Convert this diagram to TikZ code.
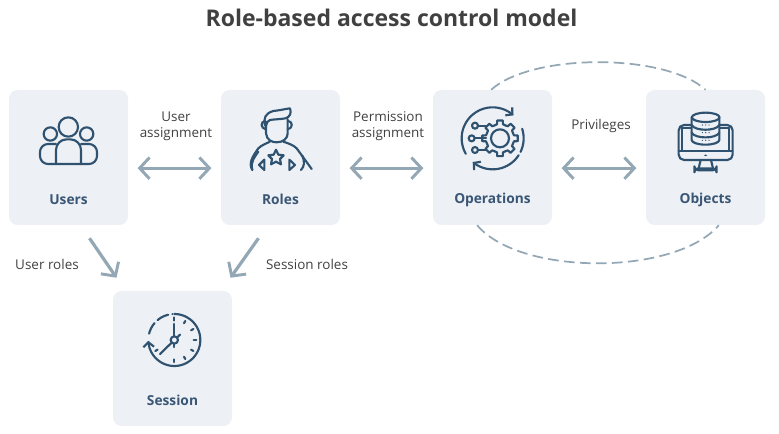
\documentclass[tikz,border=0pt]{standalone}
\usepackage{fontspec}
\setmainfont{Open Sans}
\usepackage{xcolor}
\usetikzlibrary{calc}
\usetikzlibrary{arrows.meta}
\definecolor{boxfill}{HTML}{EDF0F5}
\definecolor{icondark}{HTML}{2F5270}
\definecolor{arrowgrey}{HTML}{94A7B5}
\definecolor{textdark}{HTML}{404040}
\definecolor{captionblue}{HTML}{3A5675}
\tikzset{
  box/.style={fill=boxfill,rounded corners=6.5pt,minimum width=89.25pt,minimum height=101.25pt,inner sep=0pt},
  boxtext/.style={font=\fontsize{10.3}{12}\selectfont\bfseries,text=captionblue,inner sep=0pt},
  reltext/.style={font=\fontsize{10.1}{12}\selectfont,text=textdark,align=center,inner sep=0pt},
  relarrow/.style={draw=arrowgrey,line width=2.4pt,{Straight Barb[length=7.5pt,width=16pt,line width=2.2pt]}-{Straight Barb[length=7.5pt,width=16pt,line width=2.2pt]},shorten <=7pt,shorten >=7pt},
  downarrow/.style={draw=arrowgrey,line width=2.4pt,-{Straight Barb[length=7.5pt,width=16pt,line width=2.2pt]}},
  dashedarc/.style={draw=arrowgrey,line width=1.3pt,dash pattern=on 8pt off 4pt},
  icon/.style={draw=icondark,line width=1.6pt,line cap=round,line join=round},
  iconhead/.style={icon,-{Straight Barb[length=3.5pt,width=8pt,line width=1.6pt]}},
}
\begin{document}
\begin{tikzpicture}[x=.75pt,y=-.75pt]
\useasboundingbox (0,0) rectangle (779,434);
\node[font=\fontsize{17.25}{20}\selectfont\bfseries,text=textdark,inner sep=0pt] (title) at (391.5,18) {Role-based access control model};
\foreach \name/\txt/\x/\y in {users/Users/68.5/157.5,roles/Roles/280.5/157.5,operations/Operations/492.5/157.5,objects/Objects/705.5/157.5,session/Session/172.5/358.5} {
  \node[box] (\name) at (\x,\y) {};
  \node[boxtext] (\name text) at ([yshift=-31.6pt]\name.center) {\txt};
}
\node[reltext] (useras) at (176,126) {User\\assignment};
\node[reltext] (permas) at (388,126) {Permission\\assignment};
\node[reltext] (priv) at (601,126.5) {Privileges};
\node[reltext] (userroles) at (47,264.5) {User roles};
\node[reltext] (sessionroles) at (307,264.5) {Session roles};
\draw[relarrow] ([yshift=-8pt]users.east) -- ([yshift=-8pt]roles.west);
\draw[relarrow] ([yshift=-8pt]roles.east) -- ([yshift=-8pt]operations.west);
\draw[relarrow] ([yshift=-8pt]operations.east) -- ([yshift=-8pt]objects.west);
\coordinate (usersout) at ($(users.south)+(21,13)$);
\coordinate (rolesout) at ($(roles.south)+(-22,13)$);
\coordinate (sessionL) at ($(session.north)+(-56,-13)$);
\coordinate (sessionR) at ($(session.north)+(58,-13)$);
\draw[downarrow] (usersout) -- (sessionL);
\draw[downarrow] (rolesout) -- (sessionR);
\draw[dashedarc] ([xshift=-1pt]operations.north) .. controls (532,53) and (665,53) .. ([xshift=0pt]objects.north);
\draw[dashedarc] ([xshift=-11.5pt]operations.south) .. controls (520,276) and (675,276) .. ([xshift=10pt]objects.south);
% users icon
\begin{scope}[shift={(0,80)},x=.25pt,y=-.25pt]
\draw[icon] (205,141) circle (29);
\draw[icon] (151,162) circle (20);
\draw[icon] (260,162) circle (20);
\draw[icon,rounded corners=8pt] (168,252) -- (168,178) -- (243,178) -- (243,252);
\draw[icon,rounded corners=6pt] (168,192) -- (120,192) -- (120,252) -- (291,252) -- (291,192) -- (243,192);
\end{scope}
% roles icon
\begin{scope}[shift={(215,85)},x=.25pt,y=-.25pt]
\draw[icon] (153,110) -- (153,145) .. controls (155,165) and (170,172) .. (185,172) .. controls (205,172) and (218,160) .. (218,145) -- (218,102);
\draw[icon] (150,122) .. controls (145,100) and (150,85) .. (175,78) .. controls (195,76) and (210,72) .. (225,70) .. controls (230,85) and (225,95) .. (212,100) .. controls (195,103) and (175,103) .. (165,105) .. controls (158,108) and (155,112) .. (153,122);
\draw[icon] (150,108) .. controls (136,110) and (136,130) .. (153,133);
\draw[icon] (220,108) .. controls (234,110) and (234,130) .. (218,133);
\draw[icon] (112,255) .. controls (100,235) and (112,215) .. (130,190) .. controls (140,180) and (155,175) .. (165,170);
\draw[icon] (205,170) .. controls (220,175) and (235,180) .. (245,190) -- (290,252);
\draw[icon] (130,200) .. controls (120,215) and (105,230) .. (112,255);
\draw[icon] (262,212) .. controls (270,230) and (268,245) .. (258,255);
\draw[icon] (148,224) -- (132,240) -- (148,255) -- cycle;
\draw[icon] (223,224) -- (240,240) -- (223,255) -- cycle;
\draw[icon] (183,194) -- (190,209) -- (206,211) -- (195,222) -- (198,238) -- (183,230) -- (168,238) -- (171,222) -- (160,211) -- (176,209) -- cycle;
\end{scope}
% operations icon
\begin{scope}[shift={(430,60)},x=.25pt,y=-.25pt]
\draw[iconhead] plot[domain=150:312,samples=40,smooth] ({188+93*cos(\x)},{235+93*sin(\x)});
\draw[icon] plot[domain=-18:26,samples=12,smooth] ({188+93*cos(\x)},{235+93*sin(\x)});
\draw[iconhead] plot[domain=33:130,samples=30,smooth] ({188+93*cos(\x)},{235+93*sin(\x)});
\draw[icon] (210,235) circle (27);
\foreach \t in {0,45,...,315} {
  \draw[icon] ($(210,235)+(\t-22.5:42)$) -- ($(210,235)+(\t-12:43)$) -- ($(210,235)+(\t-9:54)$) -- ($(210,235)+(\t+9:54)$) -- ($(210,235)+(\t+12:43)$) -- ($(210,235)+(\t+22.5:42)$);
}
\draw[icon] (135,197) circle (9);
\draw[icon] (125,235) circle (9);
\draw[icon] (135,270) circle (9);
\draw[icon] (144,197) -- (168,197);
\draw[icon] (134,235) -- (168,235);
\draw[icon] (144,270) -- (168,270);
\end{scope}
% objects icon
\begin{scope}[shift={(430,60)},x=.25pt,y=-.25pt]
\draw[icon,rounded corners=4pt] (746,195) rectangle (908,300);
\draw[icon] (755,205) -- (755,272);
\draw[icon] (898,205) -- (898,272);
\draw[icon] (755,205) -- (898,205);
\draw[icon] (746,272) -- (908,272);
\draw[icon] (812,300) -- (806,325);
\draw[icon] (843,300) -- (849,325);
\draw[icon,rounded corners=3pt] (793,331) -- (793,325) -- (860,325) -- (860,331) -- cycle;
\fill[icondark] (827,286) ellipse (5 and 2.5);
\fill[boxfill] (785,175) rectangle (868,245);
\draw[icon,fill=boxfill] (785,172) -- (785,240) arc[start angle=180,end angle=360,x radius=41.5pt*.25,y radius=14pt*.25] -- (868,172);
\draw[icon] (827,172) ellipse (41.5 and 14);
\draw[icon] (785,195) .. controls (795,214) and (858,214) .. (868,195);
\draw[icon] (785,218) .. controls (795,237) and (858,237) .. (868,218);
\foreach \y in {195,218,241} {
  \foreach \x in {817,827,837} {
    \fill[icondark] (\x,\y) circle (2);
  }
}
\end{scope}
% session icon
\begin{scope}[shift={(80,230)},x=.25pt,y=-.25pt]
\draw[iconhead] plot[domain=-90:178,samples=60,smooth] ({283+78*cos(\x)},{330+78*sin(\x)});
\draw[icon,dash pattern=on 9pt off 3.2pt] plot[domain=194:266,samples=20,smooth] ({283+78*cos(\x)},{330+78*sin(\x)});
\foreach \t in {-90,-60,...,240} {
  \ifnum\t=120\relax\else\ifnum\t=180\relax\else\ifnum\t=210\relax\else\ifnum\t=240\relax\else
  \draw[icon] ({283+58*cos(\t)},{330+58*sin(\t)}) -- ({283+66*cos(\t)},{330+66*sin(\t)});
  \fi\fi\fi\fi
}
\draw[icon] (283,262) -- (283,270);
\draw[icon] (283,282) -- (283,318);
\draw[icon] (275,338) -- (240,372);
\draw[icon] (283,330) circle (11);
\draw[icon] (292,322) -- (300,314);
\draw[icon] (283,341) -- (283,351);
\end{scope}
\end{tikzpicture}
\end{document}
